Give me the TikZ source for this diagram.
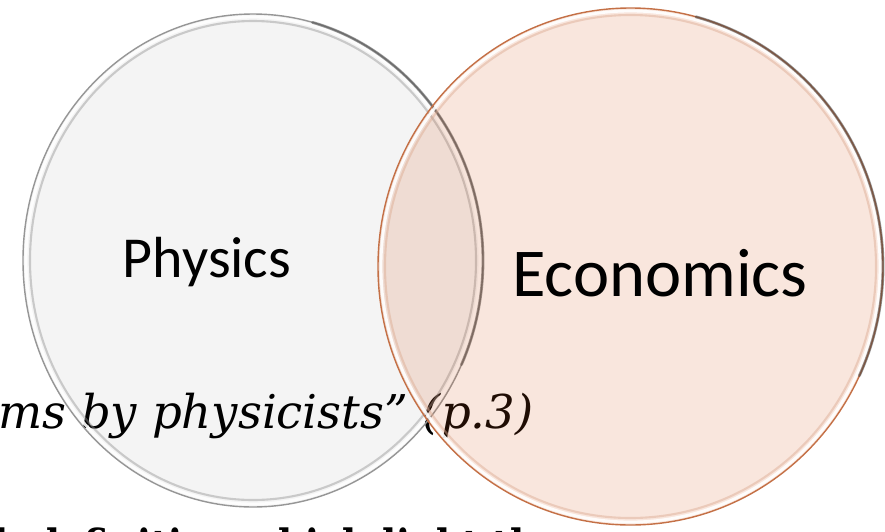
\documentclass[tikz,border=0pt]{standalone}
\usepackage{fontspec}
\usepackage{xcolor}
\usepackage{tikz}
\newfontfamily\labelfont{Carlito}
\newfontfamily\slidefont{DejaVu Serif}
\definecolor{physfill}{RGB}{0,0,0}
\definecolor{physedge}{RGB}{150,150,150}
\definecolor{econfill}{RGB}{215,88,28}
\definecolor{econedge}{RGB}{196,112,70}
\tikzset{
  setdisc/.style={draw=none},
  rim/.style={line width=0.8pt},
  glint/.style={white,line width=1.6pt,opacity=0.9},
  innerring/.style={line width=1.2pt,opacity=0.45},
  shade/.style={line width=1.6pt,opacity=0.55,line cap=round},
  setlabel/.style={font=\labelfont,inner sep=0pt,text=black},
  slidetext/.style={font=\slidefont,inner sep=0pt,anchor=base west}
}

\begin{document}
\begin{tikzpicture}[x=0.02cm,y=-0.02cm]
  \useasboundingbox (0,0) rectangle (885,531);
  \clip (0,0) rectangle (885,531);
  \fill[white] (0,0) rectangle (885,531);

  % slide text behind the diagram
  \node[slidetext,font=\slidefont\itshape\fontsize{26.5}{31}\selectfont] (quote) at (-2,428) {ms by physicists” (p.3)};
  \node[slidetext,xscale=0.81,font=\slidefont\bfseries\fontsize{26}{30}\selectfont] (defline) at (-6,562) {h definition which light the};

  % Physics
  \fill[physfill,setdisc,fill opacity=0.045] (253,260.5) ellipse [x radius=230,y radius=246.5];
  \draw[physedge,innerring] (253,260.5) ellipse [x radius=223,y radius=239.5];
  \draw[glint] (253,260.5) ellipse [x radius=227,y radius=243.5];
  \draw[physedge,rim] (253,260.5) ellipse [x radius=230,y radius=246.5];
  \draw[black!70,shade] (253,260.5) ++(-75:230 and 246.5) arc[start angle=-75,end angle=25,x radius=230,y radius=246.5];

  % Economics
  \fill[econfill,setdisc,fill opacity=0.15] (630.5,266.5) ellipse [x radius=252.5,y radius=258.5];
  \draw[econedge!60,innerring] (630.5,266.5) ellipse [x radius=245.5,y radius=251.5];
  \draw[glint] (630.5,266.5) ellipse [x radius=249.5,y radius=255.5];
  \draw[econedge,rim] (630.5,266.5) ellipse [x radius=252.5,y radius=258.5];
  \draw[black!75,shade] (630.5,266.5) ++(-75:252.5 and 258.5) arc[start angle=-75,end angle=25,x radius=252.5,y radius=258.5];

  \node[setlabel,font=\labelfont\fontsize{33}{38}\selectfont] (physics) at (207,262) {Physics};
  \node[setlabel,font=\labelfont\fontsize{39}{45}\selectfont] (economics) at (660,273) {Economics};
\end{tikzpicture}
\end{document}
